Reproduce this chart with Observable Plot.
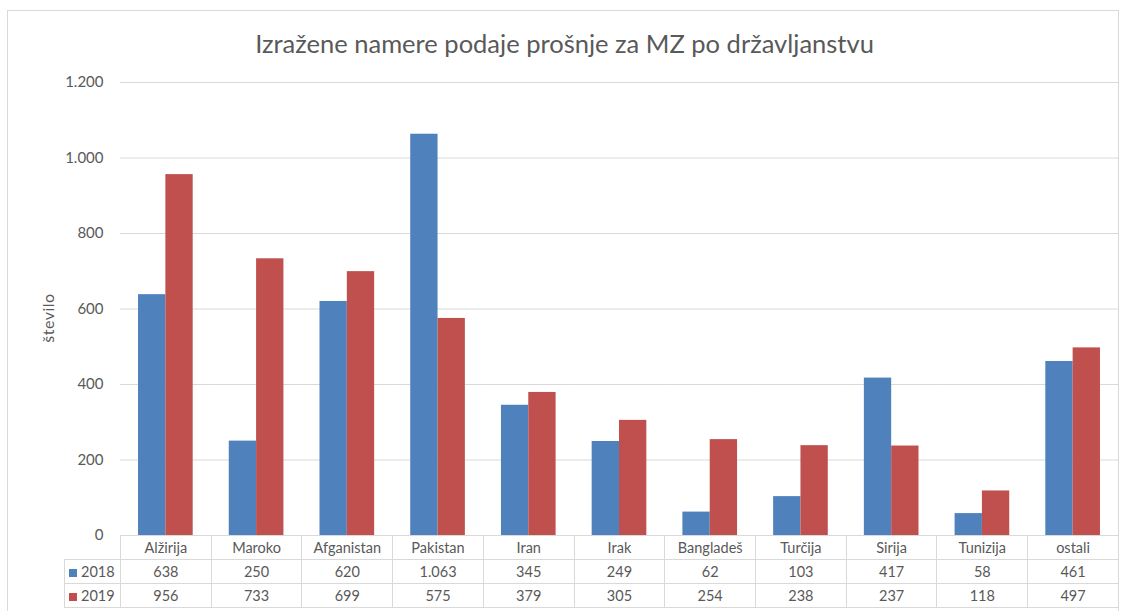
<!DOCTYPE html>
<html>
<head>
<meta charset="utf-8">
<script src="https://cdn.jsdelivr.net/npm/d3@7"></script>
<script src="https://cdn.jsdelivr.net/npm/@observablehq/plot@0.6"></script>
<style>
  html, body { margin: 0; padding: 0; background: #fff; }
  #chart { position: relative; width: 1129px; height: 611px; overflow: hidden; font-family: Lato, "Open Sans", sans-serif; color: #595959; }
  #frame { position: absolute; left: 7px; top: 10px; width: 1112px; height: 640px; border: 1px solid #d9d9d9; box-sizing: border-box; }
  #title { position: absolute; left: 0; top: 28px; width: 1129px; text-align: center; font-size: 25.5px; color: #595959; }
  #plot { position: absolute; left: 0; top: 0; }
  #ylabel { position: absolute; left: 47px; top: 318px; transform: translate(-50%, -50%) rotate(-90deg); font-size: 16px; white-space: nowrap; letter-spacing: 0.5px; }
  #tbl { position: absolute; left: 64px; top: 535px; border-collapse: collapse; table-layout: fixed; font-size: 14.5px; color: #595959; }
  #tbl td { border: 1px solid #d9d9d9; text-align: center; height: 23px; padding: 0; white-space: nowrap; }
  #tbl td.corner { border: none; }
  #tbl td.leg { text-align: left; padding-left: 4px; }
  .sw { display: inline-block; width: 8px; height: 8px; margin-right: 4px; vertical-align: 0px; }
</style>
</head>
<body>
<div id="chart">
  <div id="frame"></div>
  <div id="title"></div>
  <div id="plot"></div>
  <div id="ylabel"></div>
  <table id="tbl"></table>
</div>
<script>
const titleText = "Izražene namere podaje prošnje za MZ po državljanstvu";
const yLabel = "število";
const categories = ["Alžirija","Maroko","Afganistan","Pakistan","Iran","Irak","Bangladeš","Turčija","Sirija","Tunizija","ostali"];
const years = ["2018","2019"];
const values2018 = [638,250,620,1063,345,249,62,103,417,58,461];
const values2019 = [956,733,699,575,379,305,254,238,237,118,497];
const yTicks = [0,200,400,600,800,1000,1200];
const colors = ["#4F81BD","#C0504D"];

const loc = d3.formatLocale({decimal: ",", thousands: ".", grouping: [3], currency: ["", "€"]});
const fmt = loc.format(",");

const data = [];
categories.forEach((c, i) => {
  data.push({cat: c, year: years[0], value: values2018[i]});
  data.push({cat: c, year: years[1], value: values2019[i]});
});

document.getElementById("title").textContent = titleText;
document.getElementById("ylabel").textContent = yLabel;

const plot = Plot.plot({
  width: 1129,
  height: 560,
  marginTop: 82,
  marginBottom: 25,
  marginLeft: 120,
  marginRight: 11,
  style: {fontFamily: "Lato, 'Open Sans', sans-serif", fontSize: "15px", color: "#595959", background: "transparent"},
  fx: {domain: categories, padding: 0, axis: null, round: false},
  x: {domain: years, paddingInner: 0, paddingOuter: 0.66, axis: null, round: false},
  y: {domain: [0, 1200]},
  color: {domain: years, range: colors},
  marks: [
    Plot.gridY(yTicks, {stroke: "#d9d9d9", strokeOpacity: 1}),
    Plot.barY(data, {fx: "cat", x: "year", y: "value", fill: "year", inset: 0}),
    Plot.axisY(yTicks, {tickSize: 0, tickPadding: 17, tickFormat: fmt, label: null, fill: "#595959", fontSize: 15})
  ]
});
document.getElementById("plot").appendChild(plot);

// data table
const colW = (1129 - 120 - 11) / categories.length;
const tbl = document.getElementById("tbl");
let html = '<colgroup><col style="width:56px">' + categories.map(() => `<col style="width:${colW}px">`).join("") + '</colgroup>';
html += '<tr><td class="corner"></td>' + categories.map(c => `<td>${c}</td>`).join("") + '</tr>';
[values2018, values2019].forEach((vals, k) => {
  html += `<tr><td class="leg"><span class="sw" style="background:${colors[k]}"></span>${years[k]}</td>` + vals.map(v => `<td>${fmt(v)}</td>`).join("") + '</tr>';
});
tbl.innerHTML = html;
tbl.style.width = (56 + colW * categories.length) + "px";
</script>
</body>
</html>
